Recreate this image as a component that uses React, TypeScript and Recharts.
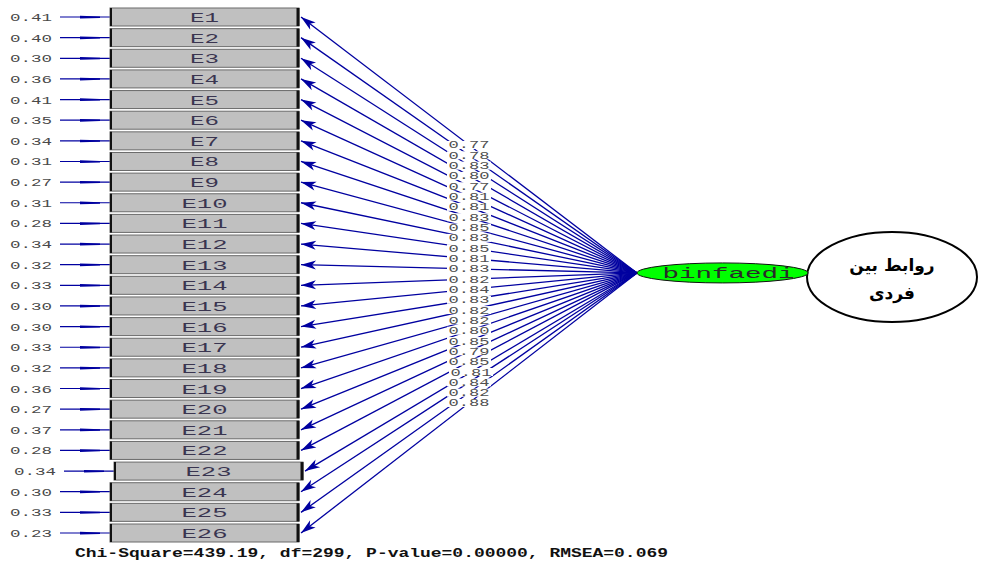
import React from "react";
import { ComposedChart, Scatter, XAxis, YAxis, ReferenceLine } from "recharts";

// measurement model: 26 indicators loading on one latent factor
const indicators = [
  "E1", "E2", "E3", "E4", "E5", "E6", "E7", "E8", "E9", "E10", "E11", "E12", "E13",
  "E14", "E15", "E16", "E17", "E18", "E19", "E20", "E21", "E22", "E23", "E24", "E25", "E26",
];
const loadings = [
  0.77, 0.78, 0.83, 0.80, 0.77, 0.81, 0.81, 0.83, 0.85, 0.83, 0.85, 0.81, 0.83,
  0.82, 0.84, 0.83, 0.82, 0.82, 0.80, 0.85, 0.79, 0.85, 0.81, 0.84, 0.82, 0.88,
];
const errorVariances = [
  0.41, 0.40, 0.30, 0.36, 0.41, 0.35, 0.34, 0.31, 0.27, 0.31, 0.28, 0.34, 0.32,
  0.33, 0.30, 0.30, 0.33, 0.32, 0.36, 0.27, 0.37, 0.28, 0.34, 0.30, 0.33, 0.23,
];
const factorName = "binfaedi";
const constructLines = ["روابط بین", "فردی"];
const fitStats = "Chi-Square=439.19, df=299, P-value=0.00000, RMSEA=0.069";

// layout (x in px, y in row units)
const W = 983;
const H = 564;
const ROW0 = 17;
const ROW_STEP = 20.64;
const BOX_W = 189;
const BOX_H = 18;
const BOX_CX = 204.5;
const FACTOR_X = 637;
const FACTOR_ROW = 12.4;
const FACTOR_CX = 722.5;
const CONSTRUCT_CX = 892;
const rowShift = (i: number) => (i === 22 ? 4 : 0);

const blue = "#0000a0";
const mono = "'Liberation Mono', 'DejaVu Sans Mono', monospace";

const boxRows = indicators.map((name, i) => ({
  x: BOX_CX + rowShift(i),
  y: i,
  name,
  err: errorVariances[i],
}));

const loadingLabels = loadings.map((v, i) => ({
  x: (FACTOR_X + BOX_CX + BOX_W / 2 + 2 + rowShift(i)) / 2,
  y: (FACTOR_ROW + i) / 2,
  v,
}));

const IndicatorBox = (props: any) => {
  const { cx, cy, payload } = props;
  const left = cx - BOX_W / 2;
  const nameLen = payload.name.length === 2 ? 29 : 46;
  return (
    <g>
      <text x={left - 79} y={cy + 4} textAnchor="middle" fontFamily={mono} fontSize={11}
        fill="#4a4a4a" textLength={42} lengthAdjust="spacingAndGlyphs">
        {payload.err.toFixed(2)}
      </text>
      <line x1={left - 50} y1={cy} x2={left} y2={cy} stroke={blue} strokeWidth={1.2} />
      <polygon points={`${left - 30},${cy - 1.2} ${left - 10},${cy - 0.6} ${left - 10},${cy + 0.9} ${left - 30},${cy + 1.5}`} fill={blue} />
      <rect x={left} y={cy - BOX_H / 2} width={BOX_W} height={BOX_H} fill="#c0c0c0" stroke="#6a6a6a" strokeWidth={1} />
      <line x1={left + 1} y1={cy - BOX_H / 2} x2={left + 1} y2={cy + BOX_H / 2} stroke="#111" strokeWidth={2} />
      <line x1={left + BOX_W - 1} y1={cy - BOX_H / 2} x2={left + BOX_W - 1} y2={cy + BOX_H / 2} stroke="#111" strokeWidth={3} />
      <text x={cx} y={cy + 5} textAnchor="middle" fontFamily={mono} fontSize={13}
        fill="#3a3550" textLength={nameLen} lengthAdjust="spacingAndGlyphs">
        {payload.name}
      </text>
    </g>
  );
};

// path from factor to indicator, arrowhead at the indicator end
const PathArrow = (props: any) => {
  const { x1, y1, x2, y2 } = props;
  const dx = x1 - x2;
  const dy = y1 - y2;
  const len = Math.hypot(dx, dy) || 1;
  const ux = dx / len;
  const uy = dy / len;
  const bx = x2 + ux * 15;
  const by = y2 + uy * 15;
  const nx = -uy * 4.5;
  const ny = ux * 4.5;
  return (
    <g>
      <line x1={x1} y1={y1} x2={x2} y2={y2} stroke={blue} strokeWidth={1.3} />
      <polygon points={`${x2},${y2} ${bx + nx},${by + ny} ${x2 + ux * 11},${y2 + uy * 11} ${bx - nx},${by - ny}`} fill={blue} />
    </g>
  );
};

const LoadingLabel = (props: any) => {
  const { cx, cy, payload } = props;
  return (
    <g>
      <rect x={cx - 22} y={cy - 4} width={44} height={8} fill="#fff" />
      <text x={cx} y={cy + 3.5} textAnchor="middle" fontFamily={mono} fontSize={10}
        fill="#505050" textLength={41} lengthAdjust="spacingAndGlyphs">
        {payload.v.toFixed(2)}
      </text>
    </g>
  );
};

const FactorShape = (props: any) => {
  const { cx, cy } = props;
  return (
    <g>
      <ellipse cx={cx} cy={cy} rx={85.5} ry={10} fill="#00ff00" stroke="#111" strokeWidth={1} />
      <text x={cx + 6} y={cy + 5} textAnchor="middle" fontFamily={mono} fontSize={14}
        fill="#2a2a2a" textLength={132} lengthAdjust="spacingAndGlyphs">
        {factorName}
      </text>
    </g>
  );
};

const ConstructShape = (props: any) => {
  const { cx, cy } = props;
  return (
    <g>
      <ellipse cx={cx} cy={cy} rx={85} ry={45} fill="#fff" stroke="#000" strokeWidth={2} />
      {constructLines.map((t, k) => (
        <text key={t} x={cx} y={cy - 6 + k * 28} textAnchor="middle" direction="rtl"
          fontFamily="'DejaVu Sans', 'Noto Sans', sans-serif" fontWeight="bold" fontSize={17} fill="#000">
          {t}
        </text>
      ))}
    </g>
  );
};

export default function App() {
  const yDomain = [-ROW0 / ROW_STEP, (H - ROW0) / ROW_STEP];
  return (
    <div style={{ position: "absolute", left: 0, top: 0, width: W, height: H, background: "#fff" }}>
      <ComposedChart width={W} height={H} margin={{ top: 0, right: 0, bottom: 0, left: 0 }}>
        <XAxis type="number" dataKey="x" domain={[0, W]} hide allowDataOverflow />
        <YAxis type="number" dataKey="y" domain={yDomain} reversed hide allowDataOverflow />
        {indicators.map((name, i) => (
          <ReferenceLine
            key={name}
            segment={[
              { x: FACTOR_X, y: FACTOR_ROW },
              { x: BOX_CX + BOX_W / 2 + 2 + rowShift(i), y: i },
            ]}
            shape={PathArrow}
            ifOverflow="visible"
          />
        ))}
        <Scatter data={boxRows} shape={IndicatorBox} isAnimationActive={false} />
        <Scatter data={loadingLabels} shape={LoadingLabel} isAnimationActive={false} />
        <Scatter data={[{ x: CONSTRUCT_CX, y: (277 - ROW0) / ROW_STEP }]} shape={ConstructShape} isAnimationActive={false} />
        <Scatter data={[{ x: FACTOR_CX, y: FACTOR_ROW }]} shape={FactorShape} isAnimationActive={false} />
        <text x={75} y={557} fontFamily={mono} fontWeight="bold" fontSize={13} fill="#111"
          textLength={593} lengthAdjust="spacingAndGlyphs">
          {fitStats}
        </text>
      </ComposedChart>
    </div>
  );
}
